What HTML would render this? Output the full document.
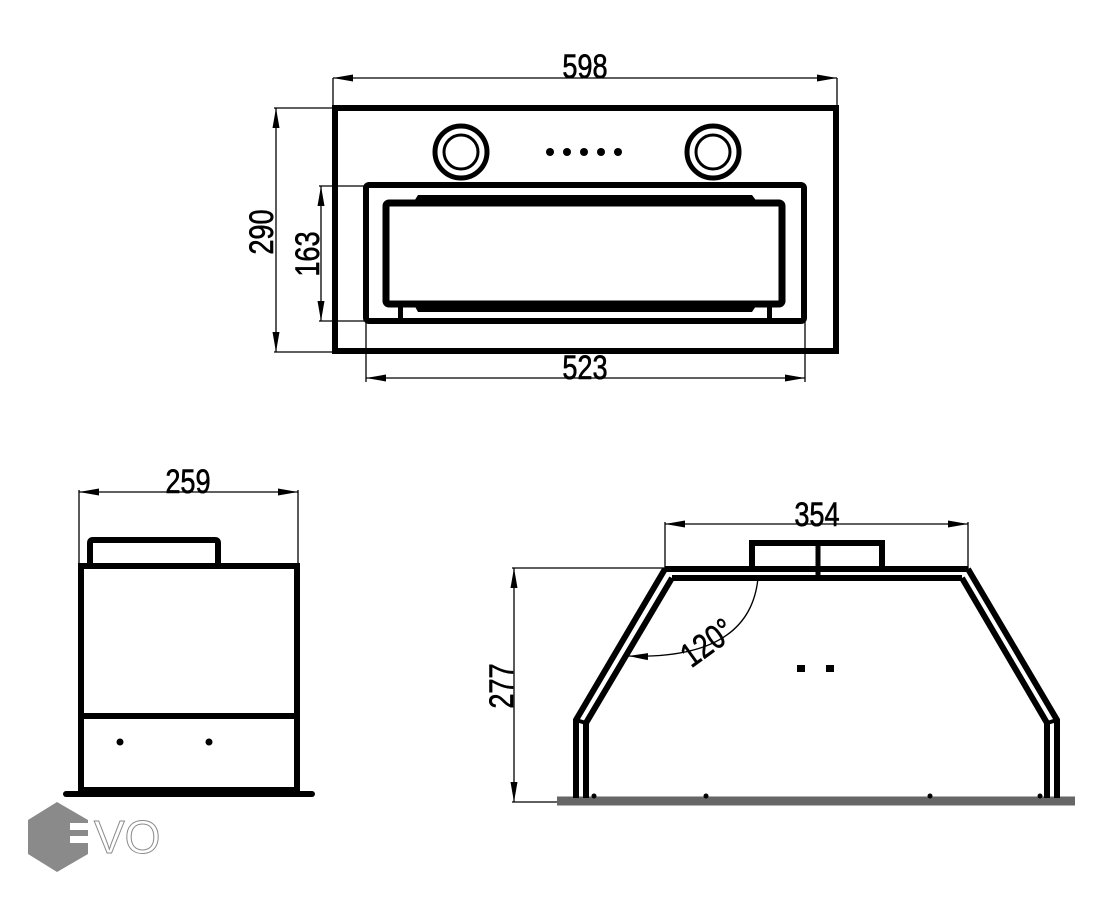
<!DOCTYPE html>
<html><head><meta charset="utf-8"><style>
html,body{margin:0;padding:0;background:#fff;}
svg{display:block;}
text{font-family:"Liberation Sans",sans-serif;fill:#000;}
</style></head><body>
<svg width="1110" height="900" viewBox="0 0 1110 900" xmlns="http://www.w3.org/2000/svg">
<defs>
<marker id="a" viewBox="0 0 20 8" refX="20" refY="4" markerWidth="20" markerHeight="8" markerUnits="userSpaceOnUse" orient="auto-start-reverse"><path d="M20,4 L0,0.5 L0,7.5 Z" fill="#000"/></marker>
</defs>
<g fill="none" stroke="#000">
<!-- TOP VIEW -->
<rect x="335" y="108" width="501" height="243" stroke-width="6"/>
<circle cx="461" cy="152" r="26" stroke-width="5"/>
<circle cx="461" cy="152" r="17" stroke-width="3"/>
<circle cx="713" cy="152" r="26" stroke-width="5"/>
<circle cx="713" cy="152" r="17" stroke-width="3"/>
<rect x="366" y="185" width="438" height="136" rx="3" stroke-width="6"/>
<rect x="386" y="203" width="396" height="101" rx="3" stroke-width="7"/>
<g stroke-width="1.3">
<line x1="333" y1="78" x2="837" y2="78" marker-start="url(#a)" marker-end="url(#a)"/>
<line x1="333" y1="78" x2="333" y2="108"/><line x1="837" y1="78" x2="837" y2="108"/>
<line x1="276" y1="108" x2="276" y2="352" marker-start="url(#a)" marker-end="url(#a)"/>
<line x1="274" y1="108" x2="335" y2="108"/><line x1="274" y1="352" x2="335" y2="352"/>
<line x1="321" y1="186" x2="321" y2="321" marker-start="url(#a)" marker-end="url(#a)"/>
<line x1="319" y1="186" x2="366" y2="186"/><line x1="319" y1="321" x2="366" y2="321"/>
<line x1="366" y1="378" x2="805" y2="378" marker-start="url(#a)" marker-end="url(#a)"/>
<line x1="366" y1="321" x2="366" y2="382"/><line x1="805" y1="321" x2="805" y2="382"/>
</g>
<!-- SIDE VIEW -->
<rect x="81" y="566" width="216" height="224" stroke-width="6"/>
<line x1="81" y1="716" x2="297" y2="716" stroke-width="6"/>
<path d="M90,565 V543 Q90,540 93,540 H215 Q218,540 218,543 V565" stroke-width="6"/>
<line x1="66" y1="794" x2="312" y2="794" stroke-width="6" stroke-linecap="round"/>
<g stroke-width="1.3">
<line x1="79" y1="492" x2="298" y2="492" marker-start="url(#a)" marker-end="url(#a)"/>
<line x1="79" y1="490" x2="79" y2="566"/><line x1="298" y1="490" x2="298" y2="566"/>
</g>
<!-- FRONT VIEW -->
<line x1="557" y1="801" x2="1075" y2="801" stroke="#666" stroke-width="9"/>
<path d="M665,569 H968" stroke-width="6"/>
<path d="M672,578 H962" stroke-width="6"/>
<path d="M752,567 V543 H882 V567" stroke-width="6"/>
<line x1="818" y1="543" x2="818" y2="578" stroke-width="5"/>
<path d="M665,569 L576,720 V798" stroke-width="6"/>
<path d="M672,578 L586,723 V798" stroke-width="6"/>
<path d="M968,569 L1057,720 V798" stroke-width="6"/>
<path d="M962,578 L1047,723 V798" stroke-width="6"/>
<line x1="576" y1="720" x2="586" y2="723" stroke-width="4"/>
<line x1="1057" y1="720" x2="1047" y2="723" stroke-width="4"/>
<g stroke-width="1.3">
<line x1="665" y1="524" x2="968" y2="524" marker-start="url(#a)" marker-end="url(#a)"/>
<line x1="665" y1="522" x2="665" y2="569"/><line x1="968" y1="522" x2="968" y2="569"/>
<line x1="514" y1="568" x2="514" y2="802" marker-start="url(#a)" marker-end="url(#a)"/>
<line x1="512" y1="568" x2="665" y2="568"/><line x1="512" y1="802" x2="557" y2="802"/>
<path d="M758,578 Q750,660 628,656" marker-end="url(#a)"/>
</g>
</g>
<g fill="#000">
<circle cx="550" cy="152" r="4"/><circle cx="567" cy="152" r="4"/><circle cx="584" cy="152" r="4"/><circle cx="601" cy="152" r="4"/><circle cx="618" cy="152" r="4"/>
<path d="M413,203 L418,195 H752 L758,203 Z"/>
<path d="M413,303 L418,312 H752 L758,303 Z"/>
<rect x="398" y="303" width="5" height="17"/><rect x="767" y="303" width="5" height="17"/>
<circle cx="120" cy="742" r="3.5"/><circle cx="209" cy="742" r="3.5"/>
<circle cx="103" cy="790" r="3"/><circle cx="272" cy="790" r="3"/>
<rect x="797" y="665" width="8" height="7"/><rect x="826" y="665" width="8" height="7"/>
<circle cx="757" cy="578" r="3"/><circle cx="594" cy="796" r="2.5"/><circle cx="706" cy="796" r="2.5"/><circle cx="930" cy="796" r="2.5"/><circle cx="1040" cy="796" r="2.5"/>
</g>
<g font-size="34" style="stroke:#000;stroke-width:0.6">
<text transform="translate(585 78) scale(0.8 1)" text-anchor="middle">598</text>
<text transform="translate(585 379) scale(0.8 1)" text-anchor="middle">523</text>
<text transform="translate(188 493) scale(0.8 1)" text-anchor="middle">259</text>
<text transform="translate(817 526) scale(0.8 1)" text-anchor="middle">354</text>
<text transform="translate(273 232) rotate(-90) scale(0.8 1)" text-anchor="middle">290</text>
<text transform="translate(319 254) rotate(-90) scale(0.8 1)" text-anchor="middle">163</text>
<text transform="translate(513 686) rotate(-90) scale(0.8 1)" text-anchor="middle">277</text>
<text transform="translate(714 652) rotate(-36) scale(0.8 1)" text-anchor="middle">120°</text>
</g>
<!-- logo -->
<polygon points="57,802 88,820 88,854 57,872 28,854 28,820" fill="#8a8a8a"/>
<rect x="70" y="823" width="22" height="7" fill="#fff"/>
<rect x="70" y="836" width="22" height="7" fill="#fff"/>
<text x="94" y="853" font-size="46" style="fill:#fff;stroke:#8a8a8a;stroke-width:1">VO</text>
</svg>
</body></html>
